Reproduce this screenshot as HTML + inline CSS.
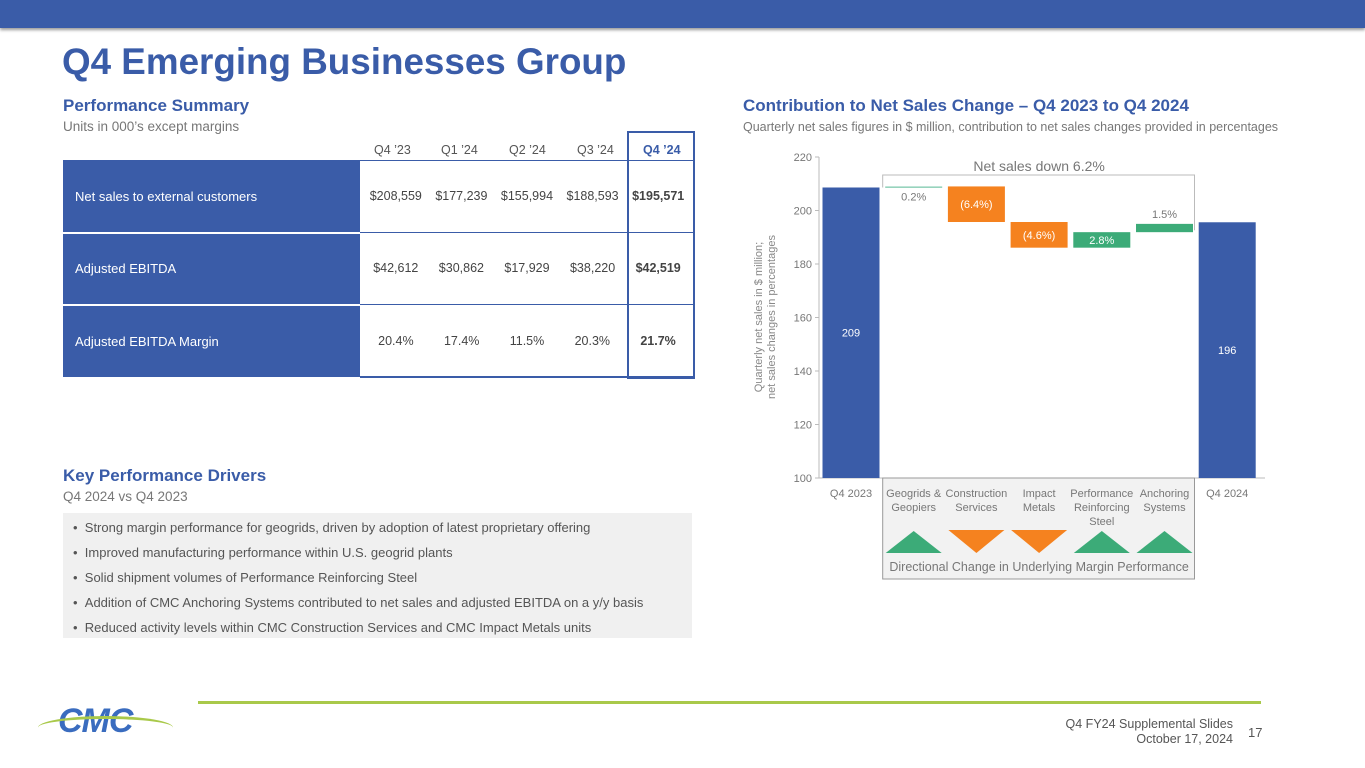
<!DOCTYPE html>
<html><head><meta charset="utf-8"><style>
body{margin:0;width:1365px;height:768px;position:relative;font-family:"Liberation Sans",sans-serif;background:#fff;overflow:hidden}
.abs{position:absolute}
.h2{color:#3a5ca8;font-weight:bold;font-size:17px}
.sub{color:#777;font-size:13.5px}
</style></head><body>
<div class="abs" style="left:0;top:0;width:1365px;height:28px;background:#3a5ca8;box-shadow:0 2px 3px #999"></div>
<div class="abs" style="left:62px;top:41px;font-size:36.8px;font-weight:bold;color:#3a5ca8">Q4 Emerging Businesses Group</div>
<div class="abs h2" style="left:63px;top:96px">Performance Summary</div>
<div class="abs sub" style="left:63px;top:119px">Units in 000’s except margins</div>

<div class="abs" style="left:63px;top:131px;width:631px;height:247px">
 <div class="abs" style="left:0;top:29px;width:297px;height:217px;background:#3a5ca8"></div>
 <div class="abs" style="left:297px;top:29px;width:333px;height:1px;background:#3a5ca8"></div>
 <div class="abs" style="left:297px;top:101px;width:333px;height:1px;background:#3a5ca8"></div>
 <div class="abs" style="left:297px;top:173px;width:333px;height:1px;background:#3a5ca8"></div>
 <div class="abs" style="left:297px;top:245px;width:333px;height:2px;background:#3a5ca8"></div>
 <div class="abs" style="left:0;top:101px;width:297px;height:2px;background:#fff"></div>
 <div class="abs" style="left:0;top:173px;width:297px;height:2px;background:#fff"></div>
 <div class="abs" style="left:564px;top:0;width:64px;height:244px;border:2px solid #3a5ca8"></div>
 <div class="abs" style="left:0;top:0;width:631px;font-size:12.5px;color:#555">
  <span class="abs" style="left:311px;top:12px">Q4 ’23</span><span class="abs" style="left:378px;top:12px">Q1 ’24</span><span class="abs" style="left:446px;top:12px">Q2 ’24</span><span class="abs" style="left:514px;top:12px">Q3 ’24</span><span class="abs" style="left:580px;top:12px;font-weight:bold;color:#3a5ca8">Q4 ’24</span>
 </div>
 <div class="abs" style="left:12px;top:58px;color:#fff;font-size:13px">Net sales to external customers</div>
 <div class="abs" style="left:12px;top:130px;color:#fff;font-size:13px">Adjusted EBITDA</div>
 <div class="abs" style="left:12px;top:203px;color:#fff;font-size:13px">Adjusted EBITDA Margin</div>
 <div class="abs" style="left:300px;top:58px;font-size:12.5px;color:#444;width:328px;display:flex;justify-content:space-around"><span>$208,559</span><span>$177,239</span><span>$155,994</span><span>$188,593</span><b>$195,571</b></div>
 <div class="abs" style="left:300px;top:130px;font-size:12.5px;color:#444;width:328px;display:flex;justify-content:space-around"><span>$42,612</span><span>$30,862</span><span>$17,929</span><span>$38,220</span><b>$42,519</b></div>
 <div class="abs" style="left:300px;top:203px;font-size:12.5px;color:#444;width:328px;display:flex;justify-content:space-around"><span>20.4%</span><span>17.4%</span><span>11.5%</span><span>20.3%</span><b>21.7%</b></div>
</div>

<div class="abs h2" style="left:63px;top:466px">Key Performance Drivers</div>
<div class="abs sub" style="left:63px;top:489px">Q4 2024 vs Q4 2023</div>
<div class="abs" style="left:63px;top:513px;width:629px;height:125px;background:#f0f0f0;font-size:13px;color:#555">
 <div style="position:absolute;left:10px;top:2px;line-height:25px">
 • &nbsp;Strong margin performance for geogrids, driven by adoption of latest proprietary offering<br>
 • &nbsp;Improved manufacturing performance within U.S. geogrid plants<br>
 • &nbsp;Solid shipment volumes of Performance Reinforcing Steel<br>
 • &nbsp;Addition of CMC Anchoring Systems contributed to net sales and adjusted EBITDA on a y/y basis<br>
 • &nbsp;Reduced activity levels within CMC Construction Services and CMC Impact Metals units</div>
</div>

<div class="abs h2" style="left:743px;top:96px">Contribution to Net Sales Change – Q4 2023 to Q4 2024</div>
<div class="abs sub" style="left:743px;top:120px;font-size:12.5px">Quarterly net sales figures in $ million, contribution to net sales changes provided in percentages</div>

<svg class="abs" style="left:0;top:0" width="1365" height="768" id="chart"></svg>

<div class="abs" style="left:198px;top:701px;width:1063px;height:3px;background:#a9c94a"></div>
<div class="abs" style="left:38px;top:700px;width:135px;height:40px">
 <div class="abs" style="left:20px;top:2px;font-size:34px;font-weight:900;font-style:italic;color:#3a6cbf;letter-spacing:-1px">CMC</div>
 <div class="abs" style="left:0;top:16px;width:135px;height:20px;border-top:3px solid #a9c94a;border-radius:50%"></div>
</div>
<div class="abs" style="left:1030px;top:717px;width:203px;text-align:right;font-size:12.5px;color:#555;line-height:15px">Q4 FY24 Supplemental Slides<br>October 17, 2024</div>
<div class="abs" style="left:1248px;top:725px;font-size:13px;color:#555">17</div>

<script>
const categories=["Q4 2023","Geogrids & Geopiers","Construction Services","Impact Metals","Performance Reinforcing Steel","Anchoring Systems","Q4 2024"];
const startValue=208.6;
const deltas=[0.4,-13.3,-9.6,5.8,3.1];
const endValue=195.6;
const deltaLabels=["0.2%","(6.4%)","(4.6%)","2.8%","1.5%"];
const totalLabels=["209","196"];
const marginDirection=["up","down","down","up","up"];
const yTicks=[100,120,140,160,180,200,220];

const svg=document.getElementById('chart');
const NS='http://www.w3.org/2000/svg';
const y0=478,y1=157,vMin=100,vMax=220;
const y=v=>y0-(v-vMin)/(vMax-vMin)*(y0-y1);
const cx=i=>851+i*62.7;
const bw=57;
function el(t,a,txt){const e=document.createElementNS(NS,t);for(const k in a)e.setAttribute(k,a[k]);if(txt!==undefined)e.textContent=txt;svg.appendChild(e);return e;}
let ax=el('line',{x1:819,y1:y1,x2:819,y2:y0,stroke:'#bbb'});


let bx=el('line',{x1:819,y1:y0,x2:1265,y2:y0,stroke:'#bbb'});


yTicks.forEach(t=>{
 el('line',{x1:815,x2:819,y1:y(t),y2:y(t),stroke:'#bbb'});
 const e=el('text',{x:812,y:y(t)+4,'text-anchor':'end','font-size':11,fill:'#777'},t);
 
 
});
const yt=el('text',{transform:'translate(762,317) rotate(-90)','text-anchor':'middle','font-size':11,fill:'#888'});


yt.innerHTML='<tspan x="0" dy="0">Quarterly net sales in $ million;</tspan><tspan x="0" dy="13">net sales changes in percentages</tspan>';
const bb=el('polyline',{points:`${cx(1)-31},${y(startValue)} ${cx(1)-31},175 ${cx(5)+30},175 ${cx(5)+30},${y(endValue)+8}`,fill:'none',stroke:'#bbb'});


const bt=el('text',{x:(cx(1)+cx(5))/2,y:171,'text-anchor':'middle','font-size':14,fill:'#777'},'Net sales down 6.2%');


[[0,startValue],[6,endValue]].forEach(([i,v],k)=>{
 const r=el('rect',{x:cx(i)-bw/2,y:y(v),width:bw,height:y0-y(v),fill:'#3a5ca8'});
 
 
 const t=el('text',{x:cx(i),y:(y(v)+y0)/2+4,'text-anchor':'middle','font-size':11,fill:'#fff'},totalLabels[k]);
 
 
});
let run=startValue;
deltas.forEach((d,j)=>{
 const i=j+1,a=run,b=run+d;run=b;
 const top=y(Math.max(a,b)),bot=y(Math.min(a,b));
 const col=d<0?'#f5821f':(j===0?'#8fd0b8':'#3cab78');
 const r=el('rect',{x:cx(i)-bw/2,y:top,width:bw,height:Math.max(bot-top,1.5),fill:col});
 
 
 const inside=(bot-top)>14;
 const t=el('text',{x:cx(i),y:inside?(top+bot)/2+4:(d>0&&j>0?top-6:bot+13),'text-anchor':'middle','font-size':11,fill:inside?'#fff':'#777'},deltaLabels[j]);
 
 
});
const mb=el('rect',{x:cx(1)-31,y:y0,width:cx(5)-cx(1)+61,height:101,fill:'#f2f2f2',stroke:'#999'});


categories.forEach((c,i)=>{
 let lines=c==="Geogrids & Geopiers"?["Geogrids &","Geopiers"]:c==="Construction Services"?["Construction","Services"]:c==="Impact Metals"?["Impact","Metals"]:c==="Performance Reinforcing Steel"?["Performance","Reinforcing","Steel"]:c==="Anchoring Systems"?["Anchoring","Systems"]:[c];
 lines.forEach((l,k)=>{
  const t=el('text',{x:cx(i),y:497+k*14,'text-anchor':'middle','font-size':11,fill:'#777'},l);
  
  
 });
});
marginDirection.forEach((d,j)=>{
 const x=cx(j+1);
 const pts=d==='up'?`${x-28},553 ${x+28},553 ${x},531`:`${x-28},530 ${x+28},530 ${x},553`;
 const p=el('polygon',{points:pts,fill:d==='up'?'#3cab78':'#f5821f'});
 
 
});
const mt=el('text',{x:(cx(1)+cx(5))/2,y:571,'text-anchor':'middle','font-size':12.5,fill:'#777'},'Directional Change in Underlying Margin Performance');


</script>
</body></html>
